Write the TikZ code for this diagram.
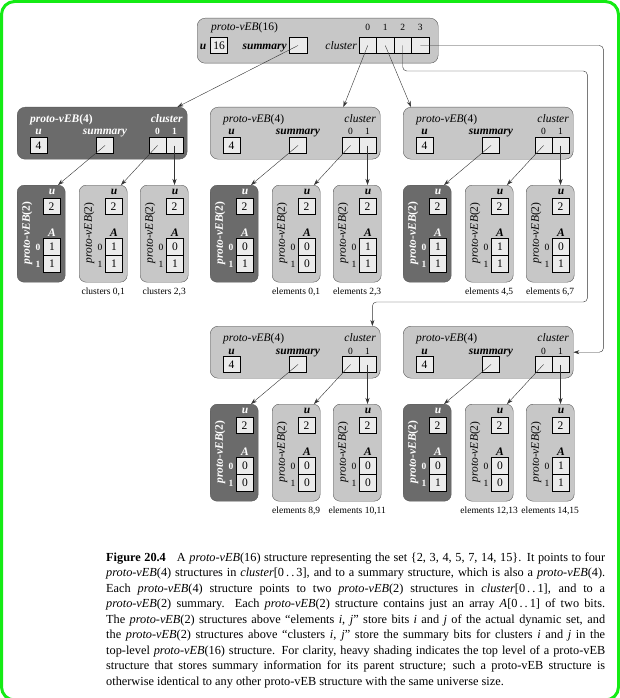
\documentclass[tikz,border=0pt]{standalone}
\usepackage{fontspec}
\setmainfont{Liberation Serif}
\usetikzlibrary{calc,arrows.meta}

\definecolor{framegreen}{RGB}{20,235,20}
\definecolor{boxlight}{gray}{0.78}
\definecolor{boxdark}{gray}{0.42}
\definecolor{boxline}{gray}{0.35}
\definecolor{cellfill}{gray}{0.92}

\newcommand{\lbl}{\fontsize{11.5}{13}\selectfont}
\newcommand{\idxf}{\fontsize{9.5}{10}\selectfont}
\newcommand{\tagf}{\fontsize{9.5}{11}\selectfont}
\newcommand{\capf}{\fontsize{12.3}{15.5}\selectfont}

\tikzset{
  lightbox/.style={draw=boxline, fill=boxlight, rounded corners=8pt, inner sep=0pt},
  darkbox/.style={draw=boxline, fill=boxdark, rounded corners=8pt, inner sep=0pt},
  lightlbl/.style={text=black, font=\lbl},
  darklbl/.style={text=white, font=\lbl\bfseries},
  lightidx/.style={font=\idxf},
  darkidx/.style={font=\idxf\bfseries},
  cell/.style={draw=black, fill=cellfill, text=black, font=\lbl\mdseries,
    inner sep=0pt, minimum width=17pt, minimum height=16pt},
  tag/.style={font=\tagf, inner sep=0pt},
  ptr/.style={draw=black!80, thin, -{Stealth[length=6pt, width=4pt]}},
}

% proto-vEB(4): name, left, top, light/dark
\newcommand{\vebfour}[4]{%
  \node[#4box, minimum width=170pt, minimum height=52pt, anchor=north west] (#1) at (#2,#3) {};
  \begin{scope}[shift={(#2,#3)}, every node/.append style={inner sep=0pt, #4lbl}]
    \node[anchor=base west] at (13,15) {\textit{proto-vEB}(4)};
    \node[anchor=base east] at (166,15) {\textit{cluster}};
    \node[anchor=base] at (21.5,28) {\textbf{\textit{u}}};
    \node[anchor=base] at (88,28) {\textbf{\textit{summary}}};
    \node[anchor=base, #4idx] at (140.5,28) {0};
    \node[anchor=base, #4idx] at (157.5,28) {1};
    \node[cell] (#1-u) at (21.5,38.5) {4};
    \node[cell] (#1-sm) at (88,38.5) {};
    \node[cell] (#1-k0) at (140.5,38.5) {};
    \node[cell] (#1-k1) at (157.5,38.5) {};
  \end{scope}}

% proto-vEB(2): name, left, top, light/dark, A[0], A[1]
\newcommand{\vebtwo}[6]{%
  \node[#4box, rounded corners=7pt, minimum width=48pt, minimum height=97pt, anchor=north west] (#1) at (#2,#3) {};
  \begin{scope}[shift={(#2,#3)}, every node/.append style={inner sep=0pt, #4lbl}]
    \node[anchor=base] at (35,9) {\textbf{\textit{u}}};
    \node[cell] (#1-u) at (34.5,21.5) {2};
    \node[anchor=base] at (35,51) {\textbf{\textit{A}}};
    \node[cell, minimum height=17pt] (#1-a0) at (35,61.5) {#5};
    \node[cell, minimum height=17pt] (#1-a1) at (35,78.5) {#6};
    \node[anchor=base, #4idx] at (21,65) {0};
    \node[anchor=base, #4idx] at (21,82) {1};
    \node[rotate=90] at (10,48) {\textit{proto-vEB}(2)};
  \end{scope}}

\begin{document}
\begin{tikzpicture}[x=1pt, y=-1pt]
  \useasboundingbox (0,0) rectangle (620,698);
  \fill[white] (0,0) rectangle (620,698);
  \draw[framegreen, line width=3pt, rounded corners=13pt] (1.5,1.5) rectangle (618.5,700);

  % top level proto-vEB(16)
  \node[lightbox, minimum width=241pt, minimum height=45pt, anchor=north west] (top) at (197,18) {};
  \begin{scope}[shift={(197,18)}, every node/.append style={inner sep=0pt, lightlbl}]
    \node[anchor=base west] at (14,13) {\textit{proto-vEB}(16)};
    \node[anchor=base] at (6,31.5) {\textbf{\textit{u}}};
    \node[cell] (top-u) at (22,27.5) {16};
    \node[anchor=base east] at (90,31.5) {\textbf{\textit{summary}}};
    \node[cell, minimum width=18pt] (top-sm) at (101,27.5) {};
    \node[anchor=base east] at (160,31.5) {\textit{cluster}};
    \foreach \i in {0,...,3} {
      \node[anchor=base, lightidx] at (170.75+17.5*\i,13) {\i};
      \node[cell, minimum width=17.5pt] (top-k\i) at (170.75+17.5*\i,27.5) {};
    }
  \end{scope}

  % the five proto-vEB(4) structures
  \foreach \grp/\lx/\ty/\kind/\ax/\ay/\bx/\by/\cx/\cy/\lone/\ltwo in {
      sum/17/107/dark/1/1/1/1/0/1/{clusters 0,1}/{clusters 2,3},
      c0/210/107/light/0/1/0/0/1/1/{elements 0,1}/{elements 2,3},
      c1/403/107/light/1/1/1/1/0/1/{elements 4,5}/{elements 6,7},
      c2/210/326/light/0/0/0/0/0/0/{elements 8,9}/{elements 10,11},
      c3/403/326/light/0/1/0/0/1/1/{elements 12,13}/{elements 14,15}} {
    \edef\doit{\noexpand\vebfour{\grp}{\lx}{\ty}{\kind}}\doit
    \vebtwo{\grp-s0}{\lx}{\ty+78}{dark}{\ax}{\ay}
    \vebtwo{\grp-s1}{\lx+62}{\ty+78}{light}{\bx}{\by}
    \vebtwo{\grp-s2}{\lx+123}{\ty+78}{light}{\cx}{\cy}
    \draw[ptr] (\grp-sm.center) -- ($(\grp-s0.north west)+(41,0)$);
    \draw[ptr] (\grp-k0.center) -- ($(\grp-s1.north west)+(42,0)$);
    \draw[ptr] (\grp-k1.center) -- (\grp-k1.center |- \grp-s2.north);
    \node[tag, anchor=base] (\grp-t1) at ($(\grp-s1.south)+(0,12)$) {\lone};
    \node[tag, anchor=base] (\grp-t2) at ($(\grp-s2.south)+(0,12)$) {\ltwo};
  }

  % pointers out of proto-vEB(16)
  \coordinate (k2turn) at ($(c1.north east)+(14,-36)$);
  \coordinate (k2drop) at ($(c2.north east)+(-8,-24)$);
  \coordinate (k3turn) at ($(c3.east)+(30,0)$);
  \draw[ptr] (top-sm.center) -- ($(sum.north east)+(-10,0)$);
  \draw[ptr] (top-k0.center) -- ($(c0.north east)+(-37,0)$);
  \draw[ptr] (top-k1.center) -- ($(c1.north west)+(8,0)$);
  \draw[ptr, rounded corners=4pt] (top-k2.center) |- (k2turn) |- (k2drop) -- ($(c2.north east)+(-8,0)$);
  \draw[ptr, rounded corners=4pt] (top-k3.center) -| (k3turn) -- (c3.east);

  % caption
  \node[anchor=north west, inner sep=0pt, text width=499pt, align=justify, font=\capf] (caption) at (106,552.5) {\hyphenpenalty=10000
    \textbf{Figure 20.4}\hspace{0.9em}A \textit{proto-νEB}(16) structure representing the set \{2, 3, 4, 5, 7, 14, 15\}. It points to four\linebreak
    \textit{proto-νEB}(4) structures in \textit{cluster}[0\,.\,.\,3], and to a summary structure, which is also a \textit{proto-νEB}(4).\linebreak
    Each \textit{proto-νEB}(4) structure points to two \textit{proto-νEB}(2) structures in \textit{cluster}[0\,.\,.\,1], and to a\linebreak
    \textit{proto-νEB}(2) summary.\ \ Each \textit{proto-νEB}(2) structure contains just an array \textit{A}[0\,.\,.\,1] of two bits.\linebreak
    The \textit{proto-νEB}(2) structures above “elements \textit{i}, \textit{j}” store bits \textit{i} and \textit{j} of the actual dynamic set, and\linebreak
    the \textit{proto-νEB}(2) structures above “clusters \textit{i}, \textit{j}” store the summary bits for clusters \textit{i} and \textit{j} in the\linebreak
    top-level \textit{proto-νEB}(16) structure. For clarity, heavy shading indicates the top level of a proto-vEB\linebreak
    structure that stores summary information for its parent structure; such a proto-vEB structure is\linebreak
    otherwise identical to any other proto-vEB structure with the same universe size.};
\end{tikzpicture}
\end{document}
